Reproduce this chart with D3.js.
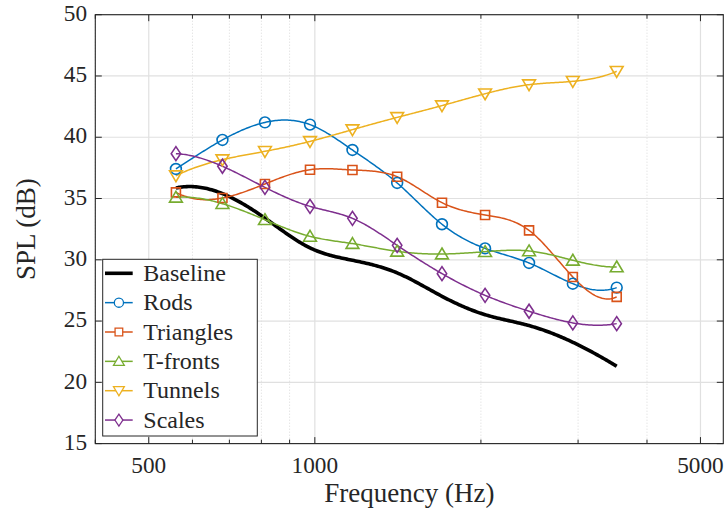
<!DOCTYPE html>
<html>
<head>
<meta charset="utf-8">
<script src="https://cdn.jsdelivr.net/npm/d3@7"></script>
<style>
  html, body { margin: 0; padding: 0; background: #fff; }
  svg { display: block; }
</style>
</head>
<body>
<svg id="chart" width="726" height="514"></svg>
<script>
// ---------- data ----------
const frequencies = [560, 680, 812, 980, 1170, 1410, 1700, 2035, 2445, 2935, 3525];
const seriesNames = ["Baseline", "Rods", "Triangles", "T-fronts", "Tunnels", "Scales"];
const baseline  = [35.86, 35.40, 33.40, 30.97, 29.96, 28.93, 27.02, 25.52, 24.63, 23.27, 21.31];
const rods      = [37.41, 39.78, 41.21, 41.03, 38.96, 36.27, 32.90, 30.93, 29.74, 28.05, 27.73];
const triangles = [35.50, 35.04, 36.19, 37.35, 37.33, 36.78, 34.66, 33.66, 32.40, 28.60, 26.97];
const tfronts   = [35.10, 34.58, 33.27, 31.91, 31.32, 30.69, 30.47, 30.66, 30.72, 29.96, 29.41];
const tunnels   = [36.86, 38.17, 38.85, 39.66, 40.62, 41.62, 42.58, 43.55, 44.29, 44.56, 45.38];
const scales    = [38.66, 37.63, 35.91, 34.36, 33.38, 31.18, 28.87, 27.10, 25.80, 24.85, 24.79];
const xTickValues = [500, 1000, 5000];
const xMinorTicks = [400, 600, 700, 800, 900, 2000, 3000, 4000];
const yTickValues = [15, 20, 25, 30, 35, 40, 45, 50];
const xDomain = [400, 5500];
const yDomain = [15, 50];
const xLabel = "Frequency (Hz)";
const yLabel = "SPL (dB)";

const seriesValues = [baseline, rods, triangles, tfronts, tunnels, scales];
const colors  = ["#000000", "#0072BD", "#D95319", "#77AC30", "#EDB120", "#7E2F8E"];
const markers = [null, "circle", "square", "triUp", "triDown", "diamond"];
const widths  = [3.6, 1.5, 1.5, 1.5, 1.5, 1.5];

// ---------- layout ----------
const L = 95.3, R = 723.3, T = 14.7, B = 443.6;
const svg = d3.select("#chart");
const x = d3.scaleLog().domain(xDomain).range([L, R]);
const y = d3.scaleLinear().domain(yDomain).range([B, T]);
const axisColor = "#262626";
const FONT = "serif";

function fitSize(sample, targetWidth) {
  const t = svg.append("text").attr("font-family", FONT).attr("font-size", 100).text(sample);
  const w = t.node().getComputedTextLength();
  t.remove();
  return 100 * targetWidth / w;
}
const tickSize = Math.min(24, fitSize("1000", 46.5));
const legendSize = Math.min(24, fitSize("Baseline", 86));
const xLabelSize = Math.min(27, fitSize(xLabel, 177));
const yLabelSize = Math.min(27, fitSize(yLabel, 110));

// grid
const grid = svg.append("g");
grid.selectAll(".gminor").data(xMinorTicks).join("line")
  .attr("x1", d => x(d)).attr("x2", d => x(d)).attr("y1", T).attr("y2", B)
  .attr("stroke", "#d9d9d9").attr("stroke-width", 1).attr("stroke-dasharray", "1,2");
grid.selectAll(".gx").data(xTickValues).join("line")
  .attr("x1", d => x(d)).attr("x2", d => x(d)).attr("y1", T).attr("y2", B)
  .attr("stroke", "#e0e0e0").attr("stroke-width", 1.2);
grid.selectAll(".gy").data(yTickValues).join("line")
  .attr("x1", L).attr("x2", R).attr("y1", d => y(d)).attr("y2", d => y(d))
  .attr("stroke", "#e0e0e0").attr("stroke-width", 1.2);

// ---------- not-a-knot cubic spline in log-frequency ----------
function spline(xs, ys) {
  const n = xs.length;
  const h = [];
  for (let i = 0; i < n - 1; i++) h.push(xs[i + 1] - xs[i]);
  const A = Array.from({length: n}, () => new Array(n).fill(0));
  const b = new Array(n).fill(0);
  A[0][0] = h[1]; A[0][1] = -(h[0] + h[1]); A[0][2] = h[0];
  for (let i = 1; i < n - 1; i++) {
    A[i][i - 1] = h[i - 1];
    A[i][i] = 2 * (h[i - 1] + h[i]);
    A[i][i + 1] = h[i];
    b[i] = 6 * ((ys[i + 1] - ys[i]) / h[i] - (ys[i] - ys[i - 1]) / h[i - 1]);
  }
  A[n - 1][n - 3] = h[n - 2]; A[n - 1][n - 2] = -(h[n - 3] + h[n - 2]); A[n - 1][n - 1] = h[n - 3];
  for (let c = 0; c < n; c++) {
    let p = c;
    for (let r = c + 1; r < n; r++) if (Math.abs(A[r][c]) > Math.abs(A[p][c])) p = r;
    [A[c], A[p]] = [A[p], A[c]]; [b[c], b[p]] = [b[p], b[c]];
    for (let r = c + 1; r < n; r++) {
      const f = A[r][c] / A[c][c];
      for (let k = c; k < n; k++) A[r][k] -= f * A[c][k];
      b[r] -= f * b[c];
    }
  }
  const M = new Array(n).fill(0);
  for (let r = n - 1; r >= 0; r--) {
    let s = b[r];
    for (let k = r + 1; k < n; k++) s -= A[r][k] * M[k];
    M[r] = s / A[r][r];
  }
  const out = [];
  for (let i = 0; i < n - 1; i++) {
    const steps = 30;
    for (let s = 0; s < steps; s++) {
      const t = xs[i] + h[i] * s / steps;
      const a = xs[i + 1] - t, c = t - xs[i];
      const v = M[i] * a * a * a / (6 * h[i]) + M[i + 1] * c * c * c / (6 * h[i])
        + (ys[i] / h[i] - M[i] * h[i] / 6) * a + (ys[i + 1] / h[i] - M[i + 1] * h[i] / 6) * c;
      out.push([t, v]);
    }
  }
  out.push([xs[n - 1], ys[n - 1]]);
  return out;
}

const line = d3.line().x(d => x(Math.pow(10, d[0]))).y(d => y(d[1]));
const plot = svg.append("g");
const logF = frequencies.map(f => Math.log10(f));

function markerPath(type) {
  switch (type) {
    case "circle": return d3.symbol().type(d3.symbolCircle).size(Math.PI * 5.4 * 5.4)();
    case "square": return "M-4.5,-4.5H4.5V4.5H-4.5Z";
    case "triUp": return "M0,-6L6.4,4.8L-6.4,4.8Z";
    case "triDown": return "M0,6L6.4,-4.8L-6.4,-4.8Z";
    case "diamond": return "M0,-7L4.7,0L0,7L-4.7,0Z";
  }
  return null;
}

seriesValues.forEach((vals, si) => {
  const pts = spline(logF, vals);
  plot.append("path").attr("d", line(pts)).attr("fill", "none")
    .attr("stroke", colors[si]).attr("stroke-width", widths[si])
    .attr("stroke-linejoin", "round").attr("stroke-linecap", "butt");
});
seriesValues.forEach((vals, si) => {
  if (!markers[si]) return;
  plot.selectAll(null).data(vals.map((v, i) => [frequencies[i], v])).join("path")
    .attr("d", markerPath(markers[si]))
    .attr("transform", d => `translate(${x(d[0])},${y(d[1])})`)
    .attr("fill", "none").attr("stroke", colors[si]).attr("stroke-width", 1.6);
});

// ---------- axes box & ticks ----------
const ax = svg.append("g");
ax.append("rect").attr("x", L).attr("y", T).attr("width", R - L).attr("height", B - T)
  .attr("fill", "none").attr("stroke", axisColor).attr("stroke-width", 1.1);
const tMaj = 6.5, tMin = 4;
xTickValues.forEach(v => {
  ax.append("line").attr("x1", x(v)).attr("x2", x(v)).attr("y1", B).attr("y2", B - tMaj).attr("stroke", axisColor);
  ax.append("line").attr("x1", x(v)).attr("x2", x(v)).attr("y1", T).attr("y2", T + tMaj).attr("stroke", axisColor);
});
xMinorTicks.forEach(v => {
  ax.append("line").attr("x1", x(v)).attr("x2", x(v)).attr("y1", B).attr("y2", B - tMin).attr("stroke", axisColor);
  ax.append("line").attr("x1", x(v)).attr("x2", x(v)).attr("y1", T).attr("y2", T + tMin).attr("stroke", axisColor);
});
yTickValues.forEach(v => {
  ax.append("line").attr("x1", L).attr("x2", L + tMaj).attr("y1", y(v)).attr("y2", y(v)).attr("stroke", axisColor);
  ax.append("line").attr("x1", R).attr("x2", R - tMaj).attr("y1", y(v)).attr("y2", y(v)).attr("stroke", axisColor);
});
ax.selectAll(".xl").data(xTickValues).join("text")
  .attr("x", d => x(d)).attr("y", 472.5).attr("text-anchor", "middle")
  .attr("font-family", FONT).attr("fill", axisColor)
  .attr("font-size", tickSize).text(d => d);
ax.selectAll(".yl").data(yTickValues).join("text")
  .attr("x", 87).attr("y", d => y(d) + 6.2).attr("text-anchor", "end")
  .attr("font-family", FONT).attr("fill", axisColor)
  .attr("font-size", tickSize).text(d => d);
ax.append("text").attr("x", (L + R) / 2).attr("y", 502).attr("text-anchor", "middle")
  .attr("font-family", FONT).attr("fill", axisColor)
  .attr("font-size", xLabelSize).text(xLabel);
ax.append("text").attr("transform", `translate(35,${(T + B) / 2}) rotate(-90)`)
  .attr("font-family", FONT).attr("fill", axisColor)
  .attr("text-anchor", "middle").attr("font-size", yLabelSize).text(yLabel);

// ---------- legend ----------
const lg = svg.append("g");
lg.append("rect").attr("x", 102.7).attr("y", 259.3).attr("width", 154.6).attr("height", 176.7)
  .attr("fill", "#fff").attr("stroke", axisColor).attr("stroke-width", 1);
const rowY = i => 273.3 + i * 29.35;
seriesNames.forEach((name, i) => {
  lg.append("line").attr("x1", 105).attr("x2", 132.7).attr("y1", rowY(i)).attr("y2", rowY(i))
    .attr("stroke", colors[i]).attr("stroke-width", widths[i]);
  if (markers[i]) {
    lg.append("path").attr("d", markerPath(markers[i]))
      .attr("transform", `translate(118.9,${rowY(i)}) scale(0.85)`)
      .attr("fill", "#fff").attr("stroke", colors[i]).attr("stroke-width", 1.5);
  }
  lg.append("text").attr("x", 143.3).attr("y", rowY(i) + 7.6)
    .attr("font-family", FONT).attr("fill", axisColor)
    .attr("font-size", legendSize).text(name);
});
</script>
</body>
</html>
